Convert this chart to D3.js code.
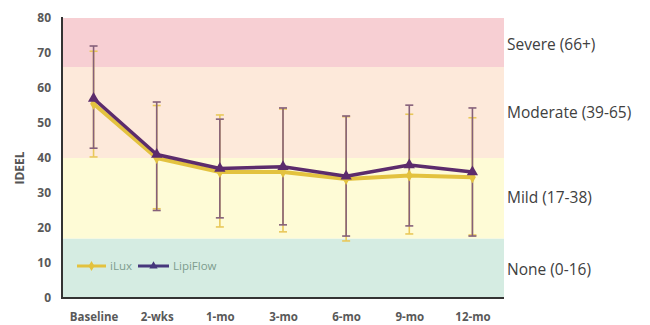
<!DOCTYPE html>
<html>
<head>
<meta charset="utf-8">
<script src="https://cdn.jsdelivr.net/npm/d3@7"></script>
<style>
  html, body { margin: 0; padding: 0; background: #fff; }
  svg { display: block; }
</style>
</head>
<body>
<svg id="chart" width="650" height="325"></svg>
<script>
// Visit labels along the x axis
const categories = ["Baseline", "2-wks", "1-mo", "3-mo", "6-mo", "9-mo", "12-mo"];

// iLux: mean IDEEL score with upper / lower error bar ends
const iluxMean = [55.5, 40, 36, 36, 34, 35, 34.5];
const iluxHigh = [70.5, 55, 52.3, 54, 51.8, 52.5, 51.5];
const iluxLow  = [40.3, 25.5, 20.3, 18.9, 16.3, 18.3, 18];

// LipiFlow: mean IDEEL score with upper / lower error bar ends
const lipiMean = [57, 41, 37, 37.5, 34.8, 38, 36];
const lipiHigh = [72, 56, 51.1, 54.3, 52, 55.1, 54.3];
const lipiLow  = [42.8, 25, 22.9, 20.9, 17.7, 20.6, 17.7];

// Severity bands on the IDEEL scale
const bandNames = ["None (0-16)", "Mild (17-38)", "Moderate (39-65)", "Severe (66+)"];
const bandFrom  = [0, 17, 40, 66];
const bandTo    = [17, 40, 66, 80];

const yTicks = [0, 10, 20, 30, 40, 50, 60, 70, 80];

const svg = d3.select("#chart");
const plotLeft = 62, plotRight = 504, plotTop = 18, plotBottom = 298;

const x = d3.scalePoint().domain(categories).range([plotLeft, plotRight]).padding(0.5);
const y = d3.scaleLinear().domain([0, 80]).range([plotBottom, plotTop]);

const bandColors = ["#d5ece2", "#fefbd6", "#fde9da", "#f7cfd3"];

// Background bands
svg.append("g").selectAll("rect")
  .data(bandNames)
  .join("rect")
  .attr("x", plotLeft)
  .attr("width", plotRight - plotLeft)
  .attr("y", (d, i) => y(bandTo[i]))
  .attr("height", (d, i) => y(bandFrom[i]) - y(bandTo[i]))
  .attr("fill", (d, i) => bandColors[i]);

// Band labels on the right
const labelY = [270, 198, 113, 45];
svg.append("g").selectAll("text")
  .data(bandNames)
  .join("text")
  .attr("x", 507)
  .attr("y", (d, i) => labelY[i])
  .attr("dy", "0.35em")
  .attr("font-family", "'Open Sans', sans-serif")
  .attr("font-size", 15.5)
  .attr("fill", "#404040")
  .text(d => d);

// Y axis
const yAxis = d3.axisLeft(y).tickValues(yTicks).tickSize(0).tickPadding(11);
const gy = svg.append("g").attr("transform", `translate(${plotLeft},0)`).call(yAxis);
gy.select(".domain").remove();
gy.selectAll("text")
  .attr("font-family", "'Open Sans', sans-serif")
  .attr("font-size", 12)
  .attr("font-weight", "bold")
  .attr("fill", "#595959");

// X axis
const xAxis = d3.axisBottom(x).tickSize(0).tickPadding(15);
const gx = svg.append("g").attr("transform", `translate(0,${plotBottom})`).call(xAxis);
gx.select(".domain").remove();
gx.selectAll("text")
  .attr("font-family", "'Open Sans', sans-serif")
  .attr("font-size", 11.5)
  .attr("font-weight", "bold")
  .attr("fill", "#595959");

// Axis lines
svg.append("line").attr("x1", plotLeft).attr("x2", plotLeft).attr("y1", plotTop - 1).attr("y2", plotBottom + 1)
  .attr("stroke", "#333").attr("stroke-width", 2);
svg.append("line").attr("x1", plotLeft - 1).attr("x2", plotRight).attr("y1", plotBottom).attr("y2", plotBottom)
  .attr("stroke", "#333").attr("stroke-width", 2);

// Y axis title
svg.append("text")
  .attr("transform", `translate(20,168) rotate(-90)`)
  .attr("text-anchor", "middle")
  .attr("dy", "0.35em")
  .attr("font-family", "'Open Sans', sans-serif")
  .attr("font-size", 12)
  .attr("font-weight", "bold")
  .attr("fill", "#555")
  .text("IDEEL");

const iluxColor = "#e3c23f";
const iluxBar = "#e9c85a";
const lipiColor = "#5c2c6c";
const lipiBar = "#85607a";

function errorBars(mean, high, low, color) {
  const g = svg.append("g").attr("stroke", color).attr("stroke-width", 1.6);
  const idx = d3.range(categories.length);
  g.selectAll("line.v").data(idx).join("line").attr("class", "v")
    .attr("x1", i => x(categories[i])).attr("x2", i => x(categories[i]))
    .attr("y1", i => y(high[i])).attr("y2", i => y(low[i]));
  g.selectAll("line.t").data(idx).join("line").attr("class", "t")
    .attr("x1", i => x(categories[i]) - 4).attr("x2", i => x(categories[i]) + 4)
    .attr("y1", i => y(high[i])).attr("y2", i => y(high[i]));
  g.selectAll("line.b").data(idx).join("line").attr("class", "b")
    .attr("x1", i => x(categories[i]) - 4).attr("x2", i => x(categories[i]) + 4)
    .attr("y1", i => y(low[i])).attr("y2", i => y(low[i]));
}

errorBars(iluxMean, iluxHigh, iluxLow, iluxBar);
errorBars(lipiMean, lipiHigh, lipiLow, lipiBar);

const line = d3.line().x((d, i) => x(categories[i])).y(d => y(d));

// iLux series
svg.append("path").datum(iluxMean).attr("d", line)
  .attr("fill", "none").attr("stroke", iluxColor).attr("stroke-width", 4).attr("stroke-linejoin", "round");
svg.append("g").selectAll("path").data(iluxMean).join("path")
  .attr("d", d3.symbol(d3.symbolDiamond, 40))
  .attr("transform", (d, i) => `translate(${x(categories[i])},${y(d)})`)
  .attr("fill", iluxColor);

// LipiFlow series
svg.append("path").datum(lipiMean).attr("d", line)
  .attr("fill", "none").attr("stroke", lipiColor).attr("stroke-width", 3.5).attr("stroke-linejoin", "round");
svg.append("g").selectAll("path").data(lipiMean).join("path")
  .attr("d", d3.symbol(d3.symbolTriangle, 55))
  .attr("transform", (d, i) => `translate(${x(categories[i])},${y(d)})`)
  .attr("fill", lipiColor);

// Legend
const legend = svg.append("g").attr("transform", "translate(77,266)");
const legendItems = [
  { name: "iLux", color: iluxColor, sym: d3.symbolDiamond, x: 0, w: 29 },
  { name: "LipiFlow", color: "#46377c", sym: d3.symbolTriangle, x: 61, w: 31 }
];
legendItems.forEach(it => {
  const g = legend.append("g").attr("transform", `translate(${it.x},0)`);
  g.append("line").attr("x1", 0).attr("x2", it.w).attr("y1", 0).attr("y2", 0)
    .attr("stroke", it.color).attr("stroke-width", 3);
  g.append("path").attr("d", d3.symbol(it.sym, 30)).attr("transform", `translate(${it.w / 2},0)`)
    .attr("fill", it.color);
  g.append("text").attr("x", it.w + 4).attr("y", 0).attr("dy", "0.35em")
    .attr("font-family", "'Open Sans', sans-serif").attr("font-size", 11.5)
    .attr("fill", "#7d9c8e").text(it.name);
});
</script>
</body>
</html>
